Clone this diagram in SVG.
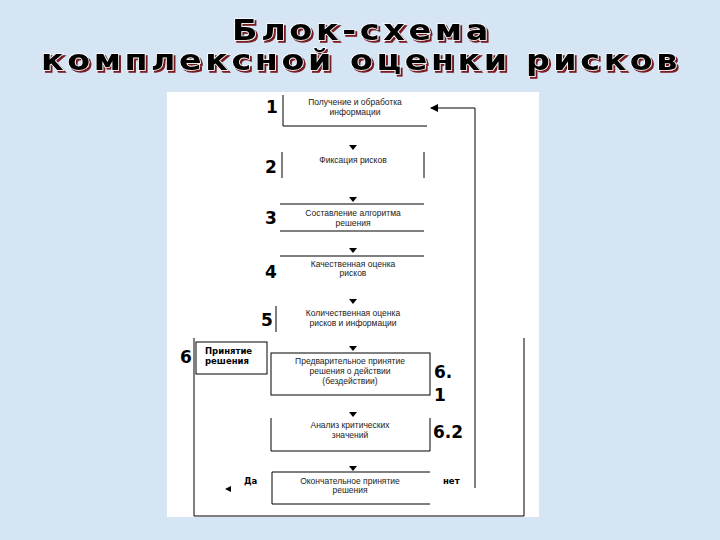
<svg xmlns="http://www.w3.org/2000/svg" width="720" height="540" viewBox="0 0 720 540">
<defs>
<style>
.t{font-family:"DejaVu Sans","Liberation Sans",sans-serif;font-weight:bold;font-size:28px;letter-spacing:3px;text-anchor:middle;fill:#000;stroke:#fff;stroke-width:1.3;paint-order:stroke}
.l{stroke:#000;stroke-width:1;fill:none}
.b{fill:#fff;stroke:#000;stroke-width:1}
.s{font-family:"Liberation Sans",Arial,sans-serif;font-size:8.5px;fill:#222;text-anchor:middle}
.n{font-family:"DejaVu Sans","Liberation Sans",sans-serif;font-weight:bold;font-size:17px;fill:#000}
.sb{font-family:"DejaVu Sans","Liberation Sans",sans-serif;font-weight:bold;font-size:8.5px;fill:#000}
.ah{fill:#000}
</style>
<filter id="sh" x="-5%" y="-20%" width="110%" height="150%">
<feFlood flood-color="#7a1a22"/>
<feComposite in2="SourceAlpha" operator="in"/>
<feOffset dx="2" dy="2" result="s"/>
<feMerge><feMergeNode in="s"/><feMergeNode in="SourceGraphic"/></feMerge>
</filter>
<marker id="arr" markerWidth="8" markerHeight="8" refX="7" refY="4" orient="auto" markerUnits="userSpaceOnUse">
<path d="M0,0 L8,4 L0,8 Z" fill="#000"/>
</marker>
</defs>
<rect width="720" height="540" fill="#d5e5f4"/>
<g id="title" filter="url(#sh)">
<text class="t" x="362" y="40" textLength="260" lengthAdjust="spacingAndGlyphs">Блок-схема</text>
<text class="t" x="361" y="70" textLength="640" lengthAdjust="spacingAndGlyphs">комплексной оценки рисков</text>
</g>
<rect x="167" y="92" width="372" height="425" fill="#fff"/>
<g id="connectors">
<path class="ah" d="M349,145 L357,145 L353,150 Z"/>
<path class="ah" d="M349,197 L357,197 L353,202 Z"/>
<path class="ah" d="M349,248 L357,248 L353,253 Z"/>
<path class="ah" d="M349,299 L357,299 L353,304 Z"/>
<path class="ah" d="M349,346 L357,346 L353,351 Z"/>
<path class="ah" d="M349,412 L357,412 L353,417 Z"/>
<path class="ah" d="M349,466 L357,466 L353,471 Z"/>
<path class="l" d="M475,488 L475,108 L431,108" marker-end="url(#arr)"/>
<path class="ah" d="M225,489 L231,486 L231,492 Z"/>
<path class="l" d="M194,338 L194,516 L524,516 L524,338"/>
</g>
<g id="n1">
<path class="l" d="M283,95 L283,126 L427,126"/>
<text class="s" x="355" y="105">Получение и обработка</text>
<text class="s" x="355" y="115">информации</text>
<text class="n" x="266" y="113">1</text>
</g>
<g id="n2">
<path class="l" d="M282,152 L282,178 M424,152 L424,178"/>
<text class="s" x="353" y="163">Фиксация рисков</text>
<text class="n" x="265" y="173">2</text>
</g>
<g id="n3">
<path class="l" d="M280,204 L424,204 M280,231 L424,231"/>
<text class="s" x="353" y="216">Составление алгоритма</text>
<text class="s" x="353" y="226">решения</text>
<text class="n" x="265" y="224">3</text>
</g>
<g id="n4">
<path class="l" d="M280,256 L424,256"/>
<text class="s" x="353" y="267">Качественная оценка</text>
<text class="s" x="353" y="276">рисков</text>
<text class="n" x="265" y="278">4</text>
</g>
<g id="n5">
<path class="l" d="M276,306 L276,332"/>
<text class="s" x="353" y="316">Количественная оценка</text>
<text class="s" x="353" y="326">рисков и информации</text>
<text class="n" x="261" y="326">5</text>
</g>
<g id="n6">
<rect class="b" x="196" y="342" width="71" height="32"/>
<text class="sb" x="205" y="354">Принятие</text>
<text class="sb" x="205" y="364">решения</text>
<text class="n" x="180" y="363">6</text>
</g>
<g id="n61">
<rect class="b" x="271" y="353" width="159" height="42"/>
<text class="s" x="350" y="364">Предварительное принятие</text>
<text class="s" x="350" y="374">решения о действии</text>
<text class="s" x="350" y="384">(бездействии)</text>
<text class="n" x="434" y="378">6.</text>
<text class="n" x="434" y="401">1</text>
</g>
<g id="n62">
<path class="l" d="M271,418 L271,451 L430,451 L430,418"/>
<text class="s" x="350" y="428">Анализ критических</text>
<text class="s" x="350" y="438">значений</text>
<text class="n" x="433" y="438">6.2</text>
</g>
<g id="n7">
<path class="l" d="M430,472 L272,472 L272,504 L430,504"/>
<text class="s" x="350" y="484">Окончательное принятие</text>
<text class="s" x="350" y="493">решения</text>
<text class="sb" x="244" y="484">Да</text>
<text class="sb" x="443" y="484">нет</text>
</g>
</svg>
